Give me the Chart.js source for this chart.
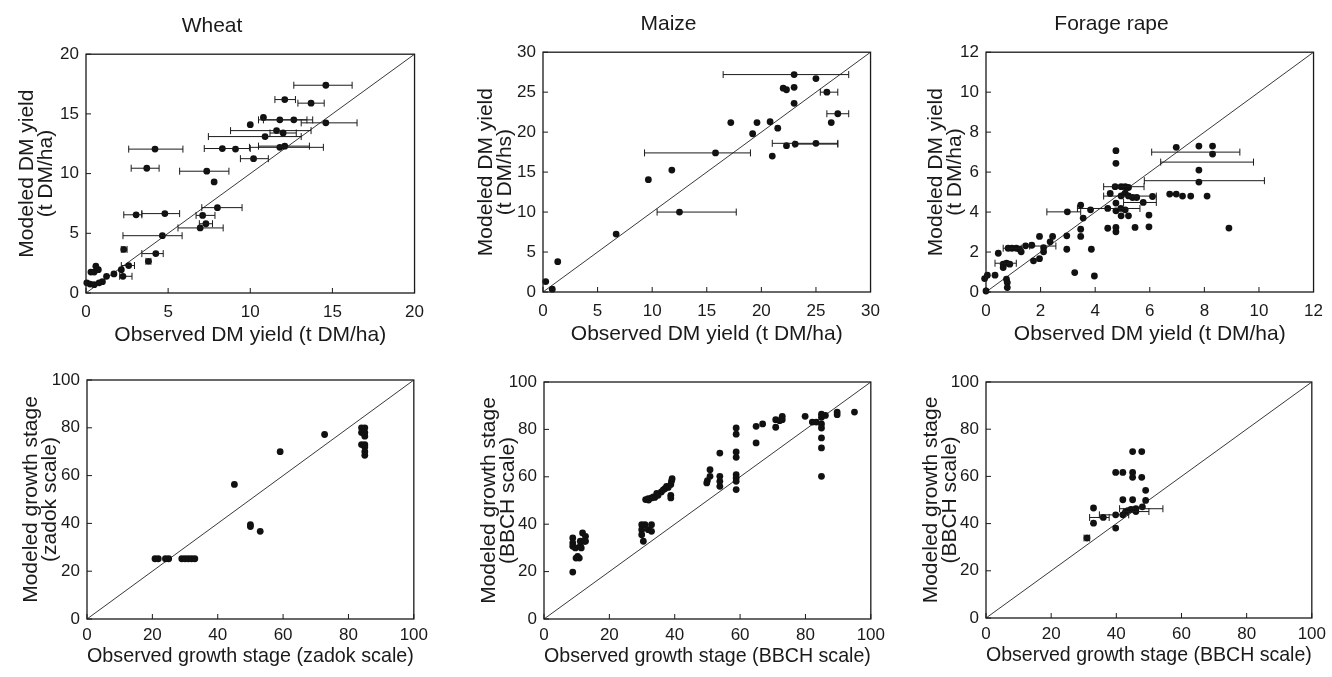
<!DOCTYPE html>
<html>
<head>
<meta charset="utf-8">
<script src="https://cdn.jsdelivr.net/npm/chart.js@4.4.1/dist/chart.umd.min.js"></script>
<style>
  html, body { margin: 0; padding: 0; background: #fff; }
  #fig { position: relative; width: 1332px; height: 677px; overflow: hidden; }
  canvas { position: absolute; }
</style>
</head>
<body>
<div id="fig"></div>
<script>
// ---- Wheat, DM yield (t DM/ha)
const wheatYieldObs = [
  14.6, 12.1, 13.7, 10.8, 11.8, 12.65, 14.6, 10.0, 11.6, 12.0,
  10.9, 8.3, 9.1, 11.8, 12.1, 4.2, 10.2, 3.7, 7.35, 7.8,
  8.0, 7.1, 4.8, 3.05, 7.3, 6.95, 4.65, 2.3, 4.25, 3.8,
  2.6, 2.15, 2.25, 1.7, 1.25, 0.6, 0.3, 0.5, 0.75, 0.05,
  0.25, 0.5, 0.8, 1.0
];
const wheatYieldMod = [
  17.4, 16.2, 15.9, 14.7, 14.5, 14.5, 14.25, 14.1, 13.6, 13.4,
  13.1, 12.1, 12.05, 12.2, 12.3, 12.05, 11.25, 10.45, 10.2, 9.3,
  7.15, 6.5, 6.65, 6.55, 5.8, 5.45, 4.8, 3.65, 3.3, 2.65,
  2.3, 1.95, 1.4, 1.6, 1.4, 2.25, 1.75, 1.75, 1.95, 0.85,
  0.75, 0.7, 0.85, 0.95
];
// horizontal error bars: modelled value, observed low, observed high
const wheatYieldBarY = [17.4, 16.2, 15.9, 14.5, 14.5, 14.25, 13.6, 13.4, 13.1, 12.1,
  12.2, 12.3, 12.05, 11.25, 10.45, 10.2, 7.15, 6.5, 6.65, 6.55,
  5.8, 5.45, 4.8, 3.65, 3.3, 2.65, 2.3, 1.4];
const wheatYieldBarLo = [12.65, 11.5, 12.9, 10.5, 10.8, 13.1, 8.8, 11.2, 7.45, 7.2,
  9.95, 10.5, 2.6, 9.4, 2.75, 5.7, 7.05, 6.7, 3.4, 2.3,
  6.9, 5.6, 2.25, 2.15, 3.4, 3.65, 2.15, 2.05];
const wheatYieldBarHi = [16.2, 12.75, 14.5, 13.45, 13.8, 16.5, 13.7, 12.8, 13.1, 10.0,
  14.45, 13.6, 5.9, 11.1, 4.45, 8.7, 9.5, 7.85, 5.7, 3.4,
  7.7, 8.35, 5.85, 2.5, 4.7, 3.95, 2.95, 2.8];

// ---- Maize, DM yield
const maizeYieldObs = [
  0.25, 0.85, 1.35, 6.7, 9.65, 11.8, 12.5, 15.8, 17.2, 19.2,
  19.6, 20.8, 21.0, 21.5, 22.0, 22.3, 23.0, 23.0, 23.0, 22.3,
  23.1, 25.0, 25.0, 26.0, 26.4, 27.0
];
const maizeYieldMod = [
  1.3, 0.35, 3.8, 7.25, 14.05, 15.25, 10.0, 17.4, 21.2, 19.8,
  21.2, 21.3, 17.0, 20.5, 25.5, 25.3, 27.2, 23.6, 25.6, 18.3,
  18.5, 18.6, 26.7, 25.0, 21.2, 22.3
];
const maizeYieldBarY = [17.4, 10.0, 27.2, 18.5, 18.6, 25.0, 22.3];
const maizeYieldBarLo = [9.3, 10.45, 16.5, 23.0, 21.0, 25.4, 26.0];
const maizeYieldBarHi = [19.0, 17.7, 28.0, 27.0, 27.0, 27.0, 28.0];

// ---- Forage rape, DM yield
const rapeYieldObs = [
  0, -0.05, 0.05, 0.33, 0.45, 0.63, 0.75, 0.87, 0.63, 0.75,
  0.78, 0.78, 0.81, 0.95, 1.11, 1.23, 1.29, 1.45, 1.68, 1.96,
  1.74, 1.96, 2.11, 2.11, 2.35, 2.44, 2.96, 2.96, 2.98, 3.25,
  3.47, 3.47, 3.47, 3.56, 3.86, 3.97, 3.83, 4.46, 4.46, 4.55,
  4.76, 4.76, 4.73, 4.76, 4.76, 4.76, 4.76, 4.95, 5.1, 5.22,
  4.95, 5.1, 5.22, 4.94, 5.1, 4.95, 5.22, 5.37, 5.52, 5.46,
  5.76, 5.97, 5.97, 6.1, 6.73, 6.97, 6.97,
  7.8, 8.3, 8.3, 7.8, 7.8, 7.2, 7.5, 8.1, 8.9
];
const rapeYieldMod = [
  0.05, 0.67, 0.84, 0.84, 1.94, 1.39, 1.44, 1.39, 1.22, 0.64,
  0.47, 0.22, 2.19, 2.19, 2.19, 2.14, 2.01, 2.31, 2.34, 2.78,
  1.56, 1.67, 2.01, 2.22, 2.51, 2.78, 2.81, 2.14, 4.01, 0.97,
  4.35, 3.14, 2.78, 3.7, 2.14, 0.8, 4.11, 4.18, 3.19, 4.93,
  7.07, 6.44, 5.27, 4.06, 3.23, 3.01, 4.45, 5.27, 5.27, 5.23,
  4.81, 4.95, 4.81, 4.18, 4.11, 3.81, 3.81, 4.73, 4.73, 3.23,
  4.48, 3.85, 3.26, 4.78, 4.9, 4.9, 7.24,
  7.3, 7.3, 6.9, 6.1, 5.5, 4.8, 4.8, 4.8, 3.2
];
const rapeYieldBarY = [1.44, 2.19, 2.3, 4.01, 4.18, 5.27, 4.8, 4.48, 7.0, 6.5, 5.57];
const rapeYieldBarLo = [0.33, 0.63, 1.6, 2.23, 3.35, 4.31, 4.31, 5.04, 6.07, 6.4, 5.8];
const rapeYieldBarHi = [1.11, 1.29, 2.56, 3.47, 5.64, 5.79, 6.24, 6.24, 9.3, 9.8, 10.2];

// ---- Wheat, growth stage (zadok)
const wheatStageObs = [20.8, 21.8, 24, 25, 29, 30, 31, 32, 33, 45.1,
  50, 50, 53, 59.1, 72.7, 84, 85, 84, 85, 85,
  84, 85, 85, 85, 85];
const wheatStageMod = [25.2, 25.2, 25.2, 25.2, 25.2, 25.2, 25.2, 25.2, 25.2, 56.3,
  39.5, 38.7, 36.7, 70, 77.2, 80, 80, 78, 78, 76.5,
  73, 73, 72, 70, 68.5];

// ---- Maize, growth stage (BBCH)
const maizeStageObs = [
  8.8, 8.8, 8.8, 8.8, 9.6, 9.8, 10.8, 10.3, 11.1, 11.1, 11.8, 12.7, 12.3, 11.4, 12.7,
  29.9, 29.9, 29.9, 30.9, 31.9, 32.9, 30.4, 32.9,
  31.1, 31.9, 32.9, 33.9, 34.9, 35.9, 37, 38, 38.8, 39, 39.2, 38.8, 38.8,
  32, 33.5, 34.5, 36.5, 37.5,
  49.8, 50, 50.8, 50.8,
  53.8, 53.8, 53.8, 53.8,
  58.8, 58.8, 58.8, 58.8, 58.8, 58.8, 58.8, 58.8,
  64.9, 64.9, 66.9,
  70.9, 70.9, 72.1, 72.9, 72.9,
  79.9,
  82.1, 83.3, 84.9, 84.9, 84.9, 84.9, 84.9, 84.9, 84.9, 86.1,
  89.7, 89.7, 95
];
const maizeStageMod = [
  19.8, 34.2, 32.1, 30.7, 30, 25.7, 25.7, 26.4, 32.8, 30.7, 36.3, 34.9, 32.8, 30, 32.8,
  39.8, 37.7, 35.6, 39.8, 37.7, 39.8, 32.8, 37,
  50.4, 50.8, 51.1, 51.3, 52.2, 53.6, 55, 55.5, 56.7, 58.1, 59.2, 52.2, 51.1,
  50.2, 51.5, 53, 54.5, 56,
  57.4, 58.4, 63, 60.2,
  70, 60.2, 58.1, 56,
  80.6, 78, 70.5, 68.2, 60.9, 59.5, 58.1, 54.6,
  81.3, 74.3, 82.3,
  80.9, 84.1, 83.7, 85.5, 84.1,
  85.5,
  83.1, 83.1, 86.4, 85.1, 82.3, 80.6, 76.4, 72.2, 60.2, 85.9,
  87.3, 86.2, 87.3
];

// ---- Forage rape, growth stage (BBCH)
const rapeStageObs = [31, 33, 33, 36, 39.8, 39.8, 42, 39.8, 42, 42,
  42.8, 45, 47.8, 45, 45, 47.8, 45, 46, 46, 48,
  49, 49, 43.5, 44.5];
const rapeStageMod = [33.9, 46.6, 40.2, 42.6, 38.1, 61.7, 61.7, 43.7, 50.1, 43.7,
  44.9, 70.5, 70.5, 61.7, 59.6, 59.6, 50.1, 45.1, 46.3, 47.1,
  54.1, 49.8, 45.5, 46];
const rapeStageBarY = [33.9, 42.6, 43.7, 46.3, 45.1];
const rapeStageBarLo = [30.1, 31.8, 34.8, 41, 42.3];
const rapeStageBarHi = [31.8, 37.8, 43.8, 54.3, 50];

const yieldXTitle = 'Observed DM yield (t DM/ha)';

Chart.defaults.font.family = '"Liberation Sans", Arial, Helvetica, sans-serif';
Chart.defaults.color = '#1a1a1a';

const fig = document.getElementById('fig');

// box, inward ticks and horizontal error bars
function framePlugin(bars) {
  return {
    id: 'frame',
    afterDatasetsDraw(chart) {
      const { ctx, chartArea: a, scales: { x, y } } = chart;
      ctx.save();
      ctx.strokeStyle = '#1a1a1a';
      ctx.lineWidth = 1;
      ctx.beginPath();
      if (bars) {
        bars.y.forEach((v, i) => {
          const py = y.getPixelForValue(v);
          const x1 = x.getPixelForValue(bars.lo[i]);
          const x2 = x.getPixelForValue(bars.hi[i]);
          ctx.moveTo(x1, py); ctx.lineTo(x2, py);
          ctx.moveTo(x1, py - 3.5); ctx.lineTo(x1, py + 3.5);
          ctx.moveTo(x2, py - 3.5); ctx.lineTo(x2, py + 3.5);
        });
      }
      x.ticks.forEach(t => {
        const p = x.getPixelForValue(t.value);
        ctx.moveTo(p, a.bottom); ctx.lineTo(p, a.bottom - 5);
      });
      y.ticks.forEach(t => {
        const p = y.getPixelForValue(t.value);
        ctx.moveTo(a.left, p); ctx.lineTo(a.left + 5, p);
      });
      ctx.stroke();
      ctx.lineWidth = 1.3;
      ctx.strokeRect(a.left, a.top, a.right - a.left, a.bottom - a.top);
      ctx.restore();
    }
  };
}

function panel(p) {
  const L = 80, R = 15;
  const T = p.title ? 53 : 20;
  const B = p.row === 0 ? 55 : 58;
  const [pl, pt, pr, pb] = p.rect;
  const cv = document.createElement('canvas');
  cv.width = pr - pl + L + R;
  cv.height = pb - pt + T + B;
  cv.style.left = (pl - L) + 'px';
  cv.style.top = (pt - T) + 'px';
  fig.appendChild(cv);

  const pts = p.obs.map((v, i) => ({ x: v, y: p.mod[i] }));

  new Chart(cv, {
    type: 'scatter',
    data: {
      datasets: [
        { data: pts, pointRadius: 3.4, pointHoverRadius: 3.4, backgroundColor: '#111', borderWidth: 0, clip: false },
        { data: [{ x: 0, y: 0 }, { x: p.max, y: p.max }], showLine: true, pointRadius: 0,
          borderColor: '#222', borderWidth: 0.9 }
      ]
    },
    options: {
      responsive: false,
      animation: false,
      events: [],
      layout: { padding: { left: 0, right: R, top: p.title ? 0 : T, bottom: 0 } },
      plugins: {
        legend: { display: false },
        tooltip: { enabled: false },
        title: {
          display: !!p.title,
          text: p.title || '',
          color: '#1a1a1a',
          font: { size: 21, weight: 'normal', lineHeight: 1.2 },
          padding: { top: 13, bottom: 15 }
        }
      },
      scales: {
        x: {
          type: 'linear', min: 0, max: p.max,
          grid: { display: false, drawTicks: false },
          border: { display: false },
          ticks: { stepSize: p.step, font: { size: 17 }, padding: p.row === 0 ? 9 : 6, maxRotation: 0 },
          title: { display: true, text: p.xTitle, font: { size: 21 },
            padding: { top: 0, bottom: p.row === 0 ? 0 : 8 } },
          afterFit: s => { s.height = B; }
        },
        y: {
          type: 'linear', min: 0, max: p.max,
          grid: { display: false, drawTicks: false },
          border: { display: false },
          ticks: { stepSize: p.step, font: { size: 17 }, padding: 7 },
          title: { display: true, text: p.yTitle, font: { size: 21, lineHeight: 0.88 },
            padding: { top: p.yPad, bottom: 0 } },
          afterFit: s => { s.width = L; }
        }
      }
    },
    plugins: [framePlugin(p.bars)]
  });
}

panel({ row: 0, title: 'Wheat', rect: [86, 54, 418, 293], max: 20, step: 5, yPad: 12,
  obs: wheatYieldObs, mod: wheatYieldMod,
  bars: { y: wheatYieldBarY, lo: wheatYieldBarLo, hi: wheatYieldBarHi },
  xTitle: yieldXTitle, yTitle: ['Modeled DM yield', '(t DM/ha)'] });

panel({ row: 0, title: 'Maize', rect: [543, 52, 874, 292], max: 30, step: 5, yPad: 14,
  obs: maizeYieldObs, mod: maizeYieldMod,
  bars: { y: maizeYieldBarY, lo: maizeYieldBarLo, hi: maizeYieldBarHi },
  xTitle: yieldXTitle, yTitle: ['Modeled DM yield', '(t DM/hs)'] });

panel({ row: 0, title: 'Forage rape', rect: [986, 52, 1317, 292], max: 12, step: 2, yPad: 21,
  obs: rapeYieldObs, mod: rapeYieldMod,
  bars: { y: rapeYieldBarY, lo: rapeYieldBarLo, hi: rapeYieldBarHi },
  xTitle: yieldXTitle, yTitle: ['Modeled DM yield', '(t DM/ha)'] });

panel({ row: 1, rect: [87, 380, 419, 619], max: 100, step: 20, yPad: 15,
  obs: wheatStageObs, mod: wheatStageMod,
  xTitle: 'Observed growth stage (zadok scale)', yTitle: ['Modeled growth stage', '(zadok scale)'] });

panel({ row: 1, rect: [544, 382, 876, 619], max: 100, step: 20, yPad: 16,
  obs: maizeStageObs, mod: maizeStageMod,
  xTitle: 'Observed growth stage (BBCH scale)', yTitle: ['Modeled growth stage', '(BBCH scale)'] });

panel({ row: 1, rect: [986, 382, 1317, 618], max: 100, step: 20, yPad: 16,
  obs: rapeStageObs, mod: rapeStageMod,
  bars: { y: rapeStageBarY, lo: rapeStageBarLo, hi: rapeStageBarHi },
  xTitle: 'Observed growth stage (BBCH scale)', yTitle: ['Modeled growth stage', '(BBCH scale)'] });
</script>
</body>
</html>
